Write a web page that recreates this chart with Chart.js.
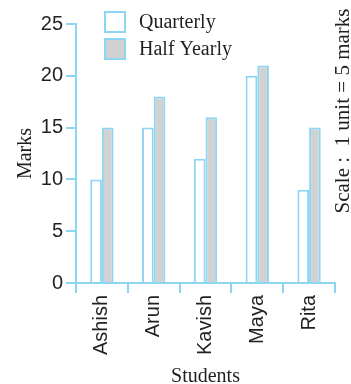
<!DOCTYPE html>
<html>
<head>
<meta charset="utf-8">
<script src="https://cdn.jsdelivr.net/npm/chart.js@4/dist/chart.umd.min.js"></script>
<style>
html,body{margin:0;padding:0;background:#fff;}
#wrap{width:351px;height:384px;position:relative;}
</style>
</head>
<body>
<div id="wrap"><canvas id="c" width="351" height="384"></canvas></div>
<script>
const students = ["Ashish", "Arun", "Kavish", "Maya", "Rita"];
const quarterly = [10, 15, 12, 20, 9];
const halfYearly = [15, 18, 16, 21, 15];
const yTicks = [0, 5, 10, 15, 20, 25];
const seriesNames = ["Quarterly", "Half Yearly"];
const scaleNote = "Scale :  1 unit = 5 marks";

const BLUE = "#8dd6f3";
const INK = "#231f20";
const SANS = "'Liberation Sans', Arial, sans-serif";
const SERIF = "'Liberation Serif', 'Times New Roman', serif";

const overlay = {
  id: "overlay",
  afterDraw(chart) {
    const ctx = chart.ctx;
    ctx.save();
    // legend
    chart.data.datasets.forEach((ds, i) => {
      const y = 12 + i * 27;
      ctx.fillStyle = ds.backgroundColor;
      ctx.fillRect(105, y, 20, 20);
      ctx.strokeStyle = ds.borderColor;
      ctx.lineWidth = 2;
      ctx.strokeRect(105, y, 20, 20);
      ctx.fillStyle = INK;
      ctx.font = "20px " + SERIF;
      ctx.textBaseline = "middle";
      ctx.textAlign = "left";
      ctx.fillText(ds.label, 139, y + 11);
    });
    // scale note
    ctx.translate(343, 111);
    ctx.rotate(-Math.PI / 2);
    ctx.font = "21px " + SERIF;
    ctx.textAlign = "center";
    ctx.textBaseline = "middle";
    ctx.fillStyle = INK;
    ctx.fillText(scaleNote, 0, 0);
    ctx.restore();
  }
};

new Chart(document.getElementById("c"), {
  type: "bar",
  data: {
    labels: students,
    datasets: [
      { label: seriesNames[0], data: quarterly, backgroundColor: "#ffffff", borderColor: BLUE, borderWidth: 2 },
      { label: seriesNames[1], data: halfYearly, backgroundColor: "#d2d2d2", borderColor: BLUE, borderWidth: 2 }
    ]
  },
  options: {
    responsive: false,
    animation: false,
    devicePixelRatio: 1,
    layout: { padding: { left: 0, right: 16, top: 24, bottom: 0 } },
    datasets: { bar: { categoryPercentage: 0.45, barPercentage: 1.0 } },
    plugins: { legend: { display: false }, tooltip: { enabled: false } },
    scales: {
      x: {
        grid: { drawOnChartArea: false, drawTicks: true, tickLength: 10, color: BLUE, lineWidth: 2, offset: true },
        border: { color: BLUE, width: 2 },
        ticks: { color: INK, font: { family: SANS, size: 20 }, minRotation: 90, maxRotation: 90, autoSkip: false, padding: 2 },
        title: { display: true, text: "Students", color: INK, font: { family: SERIF, size: 20, lineHeight: 0.7 }, padding: { top: 0, bottom: 0 } },
        afterFit(scale) { scale.height = 101; }
      },
      y: {
        min: 0, max: 25,
        afterBuildTicks(scale) { scale.ticks = yTicks.map(v => ({ value: v })); },
        grid: { drawOnChartArea: false, drawTicks: true, tickLength: 10, color: BLUE, lineWidth: 2 },
        border: { color: BLUE, width: 2 },
        ticks: { color: INK, font: { family: SANS, size: 20 }, padding: 3 },
        title: { display: true, text: "Marks", color: INK, font: { family: SERIF, size: 20, lineHeight: 1 }, padding: { top: 16, bottom: 16 } },
        afterFit(scale) { scale.width = 76; }
      }
    }
  },
  plugins: [overlay]
});
</script>
</body>
</html>
